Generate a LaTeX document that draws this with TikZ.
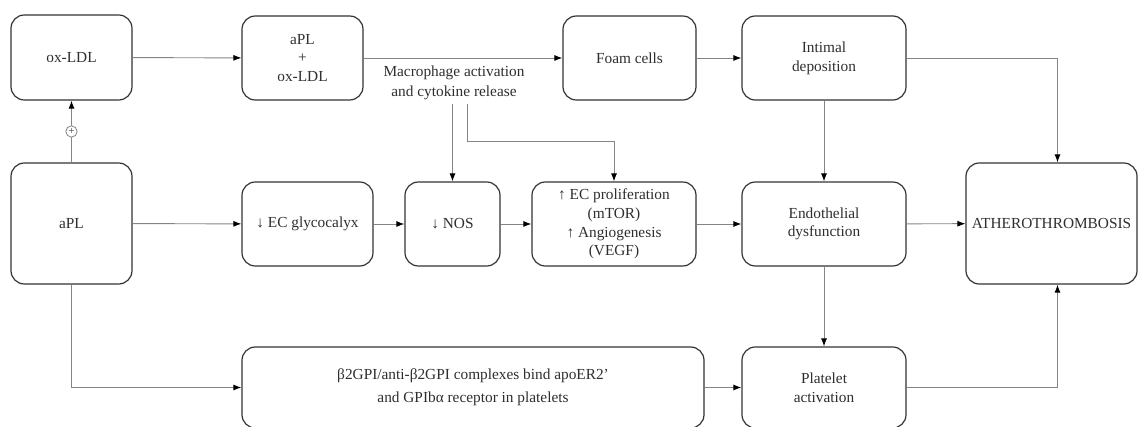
\documentclass[tikz,border=0pt]{standalone}
\usepackage{fontspec}
\setmainfont{Liberation Serif}
\usetikzlibrary{arrows.meta}
\definecolor{boxline}{HTML}{333333}
\definecolor{conn}{HTML}{858585}
\definecolor{txt}{HTML}{2E2E2E}
\begin{document}
\begin{tikzpicture}[x=0.75pt,y=-0.75pt,
  box/.style={draw=boxline, line width=0.9pt, rounded corners=10pt, align=center,
    text=txt, font=\fontsize{11.5}{14}\selectfont, inner sep=2pt},
  arr/.style={draw=conn, line width=0.7pt, -{Latex[length=6pt,width=4.5pt,color=black]}},
  plain/.style={draw=conn, line width=0.7pt},
  plusc/.style={circle, draw=conn, fill=white, line width=0.6pt, minimum size=8.5pt,
    inner sep=0pt, text=txt, font=\fontsize{8}{8}\selectfont}]
\useasboundingbox (0,0) rectangle (1138,427);
% top row
\node[box, minimum width=90.75pt, minimum height=63.75pt] (oxldl) at (71.5,57.5) {ox-LDL};
\node[box, minimum width=90.75pt, minimum height=63pt] (aplox) at (302.5,58) {aPL\\+\\ox-LDL};
\node[box, minimum width=99.75pt, minimum height=63pt] (foam) at (629.5,58) {Foam cells};
\node[box, minimum width=123pt, minimum height=63pt] (intimal) at (824,58) {Intimal\\deposition};
% middle row
\node[box, minimum width=90.75pt, minimum height=90.75pt] (apl) at (71.5,223.5) {aPL};
\node[box, minimum width=98.25pt, minimum height=63pt] (glyco) at (307.5,224) {↓ EC glycocalyx};
\node[box, minimum width=71.25pt, minimum height=63pt] (nos) at (452.5,224) {↓ NOS};
\node[box, minimum width=123pt, minimum height=63pt] (ecprol) at (614,224) {↑ EC proliferation\\(mTOR)\\↑ Angiogenesis\\(VEGF)};
\node[box, minimum width=123pt, minimum height=63pt] (endo) at (824,224) {Endothelial\\dysfunction};
\node[box, minimum width=128.25pt, minimum height=90.75pt] (athero) at (1051.5,223.5) {ATHEROTHROMBOSIS};
% bottom row
\node[box, minimum width=346.5pt, minimum height=60.75pt, font=\fontsize{11.5}{17}\selectfont] (b2gpi) at (473,387.5) {β2GPI/anti-β2GPI complexes bind apoER2’\\and GPIbα\ receptor in platelets};
\node[box, minimum width=123pt, minimum height=60.75pt] (platelet) at (824,387.5) {Platelet\\activation};
% free label
\node[align=center, text=txt, font=\fontsize{11.5}{15}\selectfont, inner sep=3pt] (macro) at (454,83) {Macrophage activation\\and cytokine release};
% connectors
\draw[arr] (oxldl) -- (aplox);
\draw[arr] (aplox) -- (foam);
\draw[arr] (foam) -- (intimal);
\draw[arr] (apl.north) -- node[plusc] (plus) {+} (oxldl.south);
\draw[arr] (apl) -- (glyco);
\draw[arr] (glyco) -- (nos);
\draw[arr] (nos) -- (ecprol);
\draw[arr] (ecprol) -- (endo);
\draw[arr] (endo) -- (athero);
\draw[arr] (intimal) -- (endo);
\draw[arr] (endo) -- (platelet);
\draw[arr] (b2gpi) -- (platelet);
\draw[arr] (apl.south) |- (b2gpi.west);
\draw[arr] (intimal.east) -| ([xshift=4.5pt]athero.north);
\draw[arr] (platelet.east) -| ([xshift=4.5pt]athero.south);
\draw[arr] (macro.south -| nos.north) -- (nos.north);
\draw[arr] ([xshift=9.75pt]macro.south) -- ++(0,37) -| (ecprol.north);
\end{tikzpicture}
\end{document}
